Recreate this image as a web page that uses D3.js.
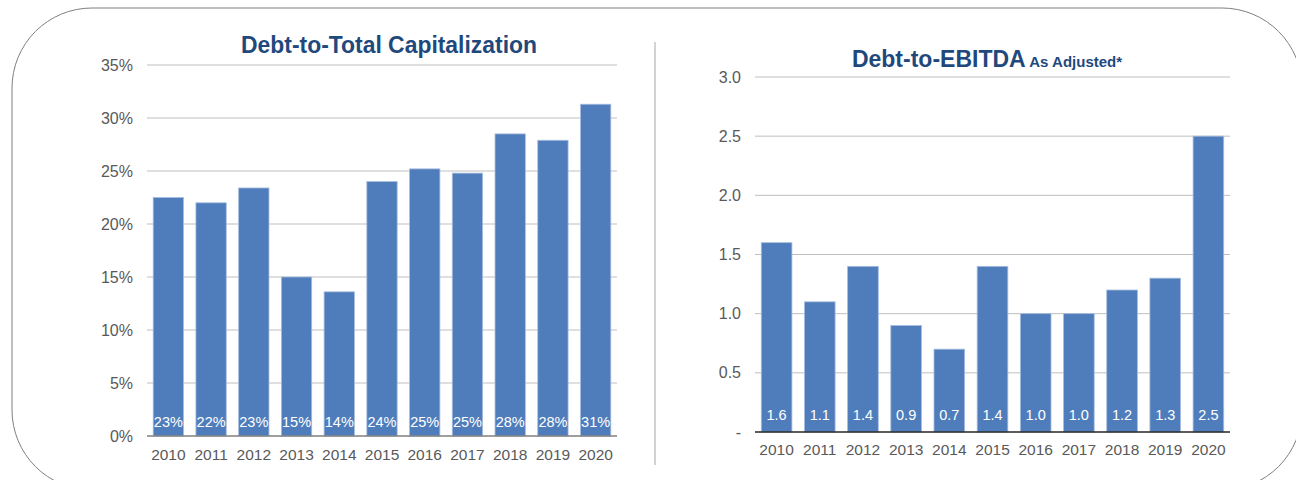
<!DOCTYPE html>
<html>
<head>
<meta charset="utf-8">
<script src="https://cdn.jsdelivr.net/npm/d3@7"></script>
<style>
  body { margin: 0; background: #fff; }
  svg { display: block; font-family: "Liberation Sans", Arial, sans-serif; }
</style>
</head>
<body>
<svg id="chart" width="1296" height="480"></svg>
<script>
// Data
var years = ["2010", "2011", "2012", "2013", "2014", "2015", "2016", "2017", "2018", "2019", "2020"];
var capPct = [22.5, 22.0, 23.4, 15.0, 13.6, 24.0, 25.2, 24.8, 28.5, 27.9, 31.3];
var capLabels = ["23%", "22%", "23%", "15%", "14%", "24%", "25%", "25%", "28%", "28%", "31%"];
var ebitda = [1.6, 1.1, 1.4, 0.9, 0.7, 1.4, 1.0, 1.0, 1.2, 1.3, 2.5];
var ebitdaLabels = ["1.6", "1.1", "1.4", "0.9", "0.7", "1.4", "1.0", "1.0", "1.2", "1.3", "2.5"];
var capTicks = [0, 5, 10, 15, 20, 25, 30, 35];
var ebitdaTicks = [0, 0.5, 1.0, 1.5, 2.0, 2.5, 3.0];

var svg = d3.select("#chart");
var barColor = "#4f7dbb";
var titleColor = "#1f497d";
var textColor = "#595959";

// Rounded frame and divider
svg.append("rect")
    .attr("x", 12).attr("y", 8)
    .attr("width", 1290).attr("height", 482)
    .attr("rx", 80).attr("ry", 80)
    .attr("fill", "none")
    .attr("stroke", "#7f7f7f")
    .attr("stroke-width", 1);

svg.append("line")
    .attr("x1", 655).attr("x2", 655)
    .attr("y1", 42).attr("y2", 465)
    .attr("stroke", "#a6a6a6");

function drawChart(opts) {
    var x = d3.scaleBand()
        .domain(years)
        .range([opts.left, opts.right])
        .paddingInner(0.29)
        .paddingOuter(0.145);
    var y = d3.scaleLinear()
        .domain(opts.domain)
        .range([opts.bottom, opts.top]);

    var g = svg.append("g");

    // gridlines
    g.append("g")
        .selectAll("line")
        .data(opts.ticks.slice(1))
        .enter().append("line")
        .attr("x1", opts.left).attr("x2", opts.right)
        .attr("y1", function (d) { return y(d); })
        .attr("y2", function (d) { return y(d); })
        .attr("stroke", "#bfbfbf")
        .attr("stroke-width", 1);

    // y axis labels
    var yAxis = g.append("g")
        .attr("transform", "translate(" + (opts.left - 14) + ",0)")
        .call(d3.axisLeft(y).tickValues(opts.ticks).tickFormat(opts.fmt).tickSize(0).tickPadding(0));
    yAxis.select(".domain").remove();
    yAxis.selectAll("text")
        .attr("fill", textColor)
        .attr("font-size", "16px")
        .attr("font-family", "Liberation Sans, Arial, sans-serif");

    // bars
    g.append("g")
        .selectAll("rect")
        .data(opts.values)
        .enter().append("rect")
        .attr("x", function (d, i) { return x(years[i]); })
        .attr("y", function (d) { return y(d); })
        .attr("width", x.bandwidth())
        .attr("height", function (d) { return y(0) - y(d); })
        .attr("fill", barColor)
        .attr("stroke", "#a7bde0")
        .attr("stroke-width", 0.8);

    // data labels
    g.append("g")
        .selectAll("text")
        .data(opts.labels)
        .enter().append("text")
        .attr("x", function (d, i) { return x(years[i]) + x.bandwidth() / 2; })
        .attr("y", opts.bottom - opts.labelOffset)
        .attr("text-anchor", "middle")
        .attr("fill", "#fff")
        .attr("font-size", "14.5px")
        .text(function (d) { return d; });

    // baseline
    g.append("line")
        .attr("x1", opts.left).attr("x2", opts.right)
        .attr("y1", y(0)).attr("y2", y(0))
        .attr("stroke", opts.baseColor)
        .attr("stroke-width", 1.5);

    // x axis labels
    var xAxis = g.append("g")
        .attr("transform", "translate(0," + (opts.bottom + opts.xPad) + ")")
        .call(d3.axisBottom(x).tickSize(0).tickPadding(0));
    xAxis.select(".domain").remove();
    xAxis.selectAll("text")
        .attr("fill", textColor)
        .attr("font-size", "15.5px")
        .attr("font-family", "Liberation Sans, Arial, sans-serif");
}

drawChart({
    left: 147, right: 617, top: 65, bottom: 436,
    domain: [0, 35], ticks: capTicks,
    fmt: function (d) { return d + "%"; },
    values: capPct, labels: capLabels,
    labelOffset: 9, xPad: 13, baseColor: "#7f7f7f"
});

drawChart({
    left: 755, right: 1230, top: 77, bottom: 432,
    domain: [0, 3.0], ticks: ebitdaTicks,
    fmt: function (d) { return d === 0 ? "-" : d3.format(".1f")(d); },
    values: ebitda, labels: ebitdaLabels,
    labelOffset: 12, xPad: 12, baseColor: "#262626"
});

// titles
svg.append("text")
    .attr("x", 389).attr("y", 53)
    .attr("text-anchor", "middle")
    .attr("fill", titleColor)
    .attr("font-size", "23px")
    .attr("font-weight", "bold")
    .attr("textLength", 296)
    .attr("lengthAdjust", "spacingAndGlyphs")
    .text("Debt-to-Total Capitalization");

var t2 = svg.append("text")
    .attr("x", 987).attr("y", 67)
    .attr("text-anchor", "middle")
    .attr("fill", titleColor)
    .attr("font-weight", "bold");
t2.append("tspan").attr("font-size", "23px").text("Debt-to-EBITDA");
t2.append("tspan").attr("font-size", "15px").text(" As Adjusted*");
</script>
</body>
</html>
